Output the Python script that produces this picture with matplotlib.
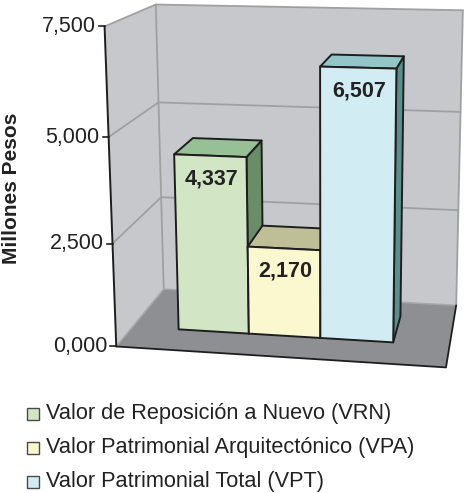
import numpy as np
import matplotlib
matplotlib.use('Agg')
import matplotlib.pyplot as plt
from matplotlib.patches import Polygon, Rectangle

plt.rcParams['font.family'] = ['Liberation Sans', 'DejaVu Sans']

# ---------------- data ----------------
series = ['Valor de Reposición a Nuevo (VRN)',
          'Valor Patrimonial Arquitectónico (VPA)',
          'Valor Patrimonial Total (VPT)']
values = [4337, 2170, 6507]
value_labels = ['4,337', '2,170', '6,507']
yticks = [0, 2500, 5000, 7500]
ytick_labels = ['0,000', '2,500', '5,000', '7,500']
ymax = 7500
ylabel = 'Millones Pesos'

# ---------------- style ----------------
front_colors = ['#D2E6C6', '#FBF8CF', '#D2ECF3']
top_colors = ['#97C097', '#BEBE97', '#95C6C7']
side_colors = ['#6A8C69', '#8C8C6A', '#5C8E8E']
wall_color = '#C7C8CB'
floor_color = '#8E8F93'
grid_color = '#A0A0A3'
edge_color = '#1E1E1E'

# perspective calibration of the chart box (u: left->right, v: 0->ymax, w: front->back)
calib_3d = [(0, 0, 0), (0, 1/3, 0), (0, 2/3, 0), (0, 1, 0),
            (0, 0, 1), (0, 1/3, 1), (0, 2/3, 1), (0, 1, 1),
            (1, 0, 1), (1, 1/3, 1), (1, 2/3, 1), (1, 1, 1),
            (1, 0, 0)]
calib_px = [(115, 347), (112, 243), (109, 138), (105, 27),
            (164, 288), (162, 197), (159, 104), (155, 3),
            (456, 307), (458, 210), (460, 112), (463, 10),
            (447, 366)]

OX, OY, S = 280.0, 200.0, 100.0


def fit_projection(p3, p2):
    A = []
    for (u, v, w), (x, y) in zip(p3, p2):
        x = (x - OX) / S
        y = (y - OY) / S
        X = [u, v, w, 1.0]
        A.append(X + [0, 0, 0, 0] + [-x * c for c in X])
        A.append([0, 0, 0, 0] + X + [-y * c for c in X])
    _, _, Vt = np.linalg.svd(np.array(A, dtype=float))
    return Vt[-1].reshape(3, 4)


M = fit_projection(calib_3d, calib_px)


def proj(u, v, w):
    h = M @ np.array([u, v, w, 1.0])
    return (h[0] / h[2] * S + OX, h[1] / h[2] * S + OY)


def poly(ax, pts, fc, ec='none', lw=0.0, z=1):
    ax.add_patch(Polygon([proj(*p) for p in pts], closed=True, facecolor=fc,
                         edgecolor=ec, linewidth=lw, zorder=z, joinstyle='round'))


def line(ax, pts, color, lw, z=2):
    xy = np.array([proj(*p) for p in pts])
    ax.plot(xy[:, 0], xy[:, 1], color=color, lw=lw, zorder=z,
            solid_capstyle='round', solid_joinstyle='round')


W, H = 466, 493
fig = plt.figure(figsize=(W / 100, H / 100), dpi=100)
ax = fig.add_axes([0, 0, 1, 1])
ax.set_xlim(0, W)
ax.set_ylim(H, 0)
ax.axis('off')

# walls and floor
poly(ax, [(0, 0, 0), (0, 1, 0), (0, 1, 1), (0, 0, 1)], wall_color)
poly(ax, [(0, 0, 1), (1, 0, 1), (1, 1, 1), (0, 1, 1)], wall_color)
poly(ax, [(0, 0, 0), (1, 0, 0), (1, 0, 1), (0, 0, 1)], floor_color)

# gridlines
for t in yticks[1:]:
    f = t / ymax
    line(ax, [(0, f, 0), (0, f, 1), (1, f, 1)], grid_color, 1.3)
line(ax, [(0, 0, 1), (0, 1, 1)], grid_color, 1.3)
line(ax, [(1, 0, 1), (1, 1, 1)], grid_color, 1.3)
line(ax, [(0, 0, 0), (0, 0, 1), (1, 0, 1)], '#A8A8AB', 1.1)

# floor edges and value axis
line(ax, [(0, 0, 0), (1, 0, 0), (1, 0, 1)], edge_color, 1.3, z=3)
line(ax, [(0, 0, 0), (0, 1, 0)], edge_color, 1.4, z=3)
for t, lab in zip(yticks, ytick_labels):
    x, y = proj(0, t / ymax, 0)
    ax.plot([x - 6, x], [y, y], color=edge_color, lw=1.2, zorder=3)
    ax.text(x - 9, y, lab, ha='right', va='center', fontsize=15.5, color='#222222')

ax.text(12, 188, ylabel, rotation=90, ha='center', va='center',
        fontsize=15, fontweight='bold', color='#222222')

# bars
u_start, bar_w = 0.15, 0.226
w0, w1 = 0.32, 0.75
for i, val in enumerate(values):
    u0 = u_start + i * bar_w
    u1 = u0 + bar_w
    h = val / ymax
    z = 5 + i
    poly(ax, [(u1, 0, w0), (u1, 0, w1), (u1, h, w1), (u1, h, w0)],
         side_colors[i], edge_color, 1.4, z)
    poly(ax, [(u0, h, w0), (u1, h, w0), (u1, h, w1), (u0, h, w1)],
         top_colors[i], edge_color, 1.4, z)
    poly(ax, [(u0, 0, w0), (u1, 0, w0), (u1, h, w0), (u0, h, w0)],
         front_colors[i], edge_color, 1.4, z)
    lx, ly = proj((u0 + u1) / 2, h, w0)
    ax.text(lx + 1, ly + 23, value_labels[i], ha='center', va='center',
            fontsize=15.5, fontweight='bold', color='#222222', zorder=20)

# legend
leg_y0, leg_dy = 414, 34
for i, name in enumerate(series):
    y = leg_y0 + i * leg_dy
    ax.add_patch(Rectangle((27, y - 6), 12, 12, facecolor=front_colors[i],
                           edgecolor='#4A4A4A', linewidth=1.0, zorder=5))
    ax.text(46, y, name, ha='left', va='center', fontsize=15.7, color='#222222')

fig.savefig('out.png', dpi=100)
